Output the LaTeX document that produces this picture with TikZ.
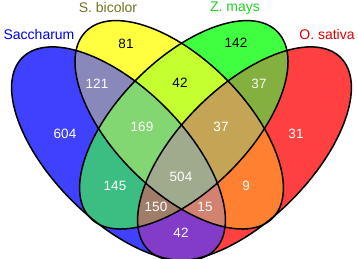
\documentclass[tikz,border=0pt]{standalone}
\usepackage{fontspec}
\setmainfont{Liberation Sans}
\usepackage{tikz}
\definecolor{cA}{HTML}{4040FF}
\definecolor{cB}{HTML}{FFFF40}
\definecolor{cC}{HTML}{40FF40}
\definecolor{cD}{HTML}{FF4040}
\definecolor{cAB}{HTML}{8888BB}
\definecolor{cAC}{HTML}{3CBE82}
\definecolor{cAD}{HTML}{823CC8}
\definecolor{cBC}{HTML}{C4FF30}
\definecolor{cBD}{HTML}{FF8030}
\definecolor{cCD}{HTML}{84B040}
\definecolor{cABC}{HTML}{82D773}
\definecolor{cABD}{HTML}{D2826E}
\definecolor{cACD}{HTML}{A07D69}
\definecolor{cBCD}{HTML}{C3A555}
\definecolor{cABCD}{HTML}{A0AA8C}
\definecolor{tA}{HTML}{0000F0}
\definecolor{tB}{HTML}{727220}
\definecolor{tC}{HTML}{20D020}
\definecolor{tD}{HTML}{E00000}
\tikzset{
  outline/.style = {draw=black,line width=1.5pt},
  numw/.style    = {font=\fontsize{13.5}{13.5}\selectfont,text=white,inner sep=0pt},
  numb/.style    = {numw,text=black},
  setname/.style = {font=\fontsize{14}{14}\selectfont,inner sep=0pt}
}
\newcommand{\ellA}{(118.5,104.2) circle [x radius=136pt,y radius=66pt,rotate=-45]}
\newcommand{\ellB}{(179.2,133.2) circle [x radius=132pt,y radius=65.5pt,rotate=-45]}
\newcommand{\ellC}{(183.8,133.2) circle [x radius=132pt,y radius=65.5pt,rotate=45]}
\newcommand{\ellD}{(244.5,104.2) circle [x radius=136pt,y radius=66pt,rotate=45]}
\newcommand{\pairfill}[3]{\begin{scope}\clip #1;\fill[#3] #2;\end{scope}}
\newcommand{\triplefill}[4]{\begin{scope}\clip #1;\clip #2;\fill[#4] #3;\end{scope}}

\begin{document}
\begin{tikzpicture}[x=1pt,y=1pt]
  \useasboundingbox (0,0) rectangle (358,258);
  % single sets
  \fill[cA] \ellA; \fill[cB] \ellB; \fill[cC] \ellC; \fill[cD] \ellD;
  % pairs, then triples, then all four
  \pairfill{\ellA}{\ellB}{cAB}
  \pairfill{\ellA}{\ellC}{cAC}
  \pairfill{\ellA}{\ellD}{cAD}
  \pairfill{\ellB}{\ellC}{cBC}
  \pairfill{\ellB}{\ellD}{cBD}
  \pairfill{\ellC}{\ellD}{cCD}
  \triplefill{\ellA}{\ellB}{\ellC}{cABC}
  \triplefill{\ellA}{\ellB}{\ellD}{cABD}
  \triplefill{\ellA}{\ellC}{\ellD}{cACD}
  \triplefill{\ellB}{\ellC}{\ellD}{cBCD}
  \begin{scope}\clip \ellA; \clip \ellB; \clip \ellC; \fill[cABCD] \ellD; \end{scope}
  \draw[outline] \ellA; \draw[outline] \ellB; \draw[outline] \ellC; \draw[outline] \ellD;
  % set names
  \node[setname,tA] (nameA) at (39,224) {Saccharum};
  \node[setname,tB] (nameB) at (108,251) {S. bicolor};
  \node[setname,tC] (nameC) at (235,250) {Z. mays};
  \node[setname,tD] (nameD) at (327,224) {O. sativa};
  % counts
  \node[numw] (nA)    at (65,124)  {604};
  \node[numb] (nB)    at (126,214) {81};
  \node[numb] (nC)    at (236,215) {142};
  \node[numw] (nD)    at (296,124) {31};
  \node[numw] (nAB)   at (97,174)  {121};
  \node[numb] (nBC)   at (180,175) {42};
  \node[numw] (nCD)   at (259,174) {37};
  \node[numw] (nABC)  at (142,131) {169};
  \node[numw] (nBCD)  at (221,131) {37};
  \node[numw] (nABCD) at (181,81)  {504};
  \node[numw] (nAC)   at (115,72)  {145};
  \node[numw] (nBD)   at (246,72)  {9};
  \node[numw] (nACD)  at (156,51)  {150};
  \node[numw] (nABD)  at (205,51)  {15};
  \node[numw] (nAD)   at (181,25)  {42};
\end{tikzpicture}
\end{document}
